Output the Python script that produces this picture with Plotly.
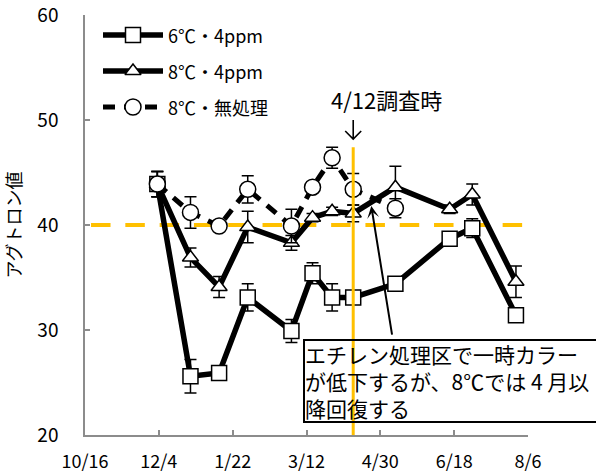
from datetime import date

import plotly.graph_objects as go

# Survey dates (storage season 2012-2013)
dates = ["2012-12-03", "2012-12-25", "2013-01-13", "2013-02-01", "2013-03-02",
         "2013-03-16", "2013-03-29", "2013-04-12", "2013-05-10", "2013-06-15",
         "2013-06-30", "2013-07-29"]

# Agtron values (mean) and standard errors per treatment
agtron_6c_4ppm = [43.9, 25.6, 25.9, 33.1, 29.9, 35.4, 33.1, 33.1, 34.4, 38.7, 39.7, 31.4]
err_6c_4ppm = [1.2, 1.6, 0.4, 1.3, 1.1, 1.0, 1.3, 0.4, 0.4, 0.4, 0.9, 0.4]

agtron_8c_4ppm = [43.9, 36.9, 34.1, 39.8, 38.3, 40.7, 41.3, 41.1, 43.6, 41.5, 42.9, 34.6]
err_8c_4ppm = [1.2, 0.9, 1.0, 1.5, 0.7, 0.4, 0.4, 0.8, 2.0, 0.4, 1.0, 1.5]

agtron_8c_ctrl = [43.9, 41.2, 39.9, 43.4, 39.9, 43.6, 46.4, 43.4, 41.6]
err_8c_ctrl = [1.2, 1.5, 0.4, 1.3, 1.6, 0.4, 1.0, 1.5, 0.9]

series_names = ["6℃・4ppm", "8℃・4ppm", "8℃・無処理"]

tick_dates = ["2012-10-16", "2012-12-04", "2013-01-22", "2013-03-12",
              "2013-04-30", "2013-06-18", "2013-08-06"]
tick_labels = ["10/16", "12/4", "1/22", "3/12", "4/30", "6/18", "8/6"]
y_ticks = [20, 30, 40, 50, 60]

threshold = 40
survey_date = "2013-04-12"
survey_label = "4/12調査時"
note_text = "エチレン処理区で一時カラー<br>が低下するが、8℃では 4 月以<br>降回復する"

FONT = "Noto Sans CJK JP"
ORANGE = "#FFC000"
AXIS_GREY = "#8c8c8c"

# plot area in pixels
L, T, W, H = 85, 15, 443, 420
FIG_W, FIG_H = 596, 476


def paper_x(px):
    return (px - L) / W


def paper_y(py):
    return (T + H - py) / H


def date_to_paper(d):
    d0 = date.fromisoformat(tick_dates[0])
    d1 = date.fromisoformat(tick_dates[-1])
    return (date.fromisoformat(d) - d0).days / (d1 - d0).days


def err(arr):
    return dict(type="data", array=arr, visible=True, color="black",
                thickness=1.5, width=6)


marker_styles = [
    dict(symbol="square", size=15, color="white", line=dict(color="black", width=1.5)),
    dict(symbol="triangle-up", size=14, color="white", line=dict(color="black", width=1.5)),
    dict(symbol="circle", size=16, color="white", line=dict(color="black", width=1.5)),
]
line_styles = [
    dict(color="black", width=5.5),
    dict(color="black", width=5.5),
    dict(color="black", width=5, dash="12px,9px"),
]

fig = go.Figure()

series = [
    (agtron_6c_4ppm, err_6c_4ppm),
    (agtron_8c_4ppm, err_8c_4ppm),
    (agtron_8c_ctrl, err_8c_ctrl),
]
for i, (vals, errs) in enumerate(series):
    fig.add_trace(go.Scatter(
        x=dates[:len(vals)], y=vals, mode="lines+markers", name=series_names[i],
        line=line_styles[i], marker=marker_styles[i], error_y=err(errs),
        showlegend=False, cliponaxis=False,
    ))

# Legend samples drawn on a hidden pixel-unit overlay axis
legend_rows = [35, 71, 107]
for i, ry in enumerate(legend_rows):
    yy = T + H - ry
    fig.add_trace(go.Scatter(
        x=[103 - L, 133 - L, 163 - L], y=[yy, yy, yy], xaxis="x2", yaxis="y2",
        mode="lines", line=line_styles[i], showlegend=False, hoverinfo="skip",
    ))
    fig.add_trace(go.Scatter(
        x=[133 - L], y=[yy], xaxis="x2", yaxis="y2", mode="markers",
        marker=marker_styles[i], showlegend=False, hoverinfo="skip",
    ))

annotations = []
for i, ry in enumerate(legend_rows):
    annotations.append(dict(
        xref="paper", yref="paper", x=paper_x(166), y=paper_y(ry),
        xanchor="left", yanchor="middle", text=series_names[i], showarrow=False,
        font=dict(family=FONT, size=18, color="black"),
    ))

# Survey-date label
annotations.append(dict(
    xref="paper", yref="paper", x=paper_x(386), y=paper_y(99),
    xanchor="center", yanchor="middle", text=survey_label, showarrow=False,
    font=dict(family=FONT, size=22, color="black"),
))

# Note box with arrow pointing at the 8℃ recovery
annotations.append(dict(
    xref="paper", yref="paper", x=paper_x(303), y=paper_y(339),
    xanchor="left", yanchor="top", text=note_text, showarrow=False, align="left",
    width=420, height=80, valign="middle",
    bordercolor="black", borderwidth=2, borderpad=0,
    font=dict(family=FONT, size=21, color="black"),
))
annotations.append(dict(
    xref="x", yref="y", x="2013-04-24", y=41.8, ax=21, ay=130,
    axref="pixel", ayref="pixel", text="", showarrow=True,
    arrowhead=3, arrowsize=1, arrowwidth=2, arrowcolor="black",
))

# Open down-arrow under the survey label
sx = date_to_paper(survey_date)
dx = 8 / W
tip, top, wing = paper_y(139), paper_y(120), paper_y(131)
arrow_path = (f"M{sx},{top} L{sx},{tip} M{sx - dx},{wing} L{sx},{tip} L{sx + dx},{wing}")

shapes = [
    dict(type="line", xref="x", yref="y", x0="2012-10-20", x1="2013-08-05",
         y0=threshold, y1=threshold, layer="below",
         line=dict(color=ORANGE, width=4, dash="19.5px,14.8px")),
    dict(type="line", xref="x", yref="y", x0=survey_date, x1=survey_date,
         y0=20, y1=47.4, layer="above", line=dict(color=ORANGE, width=3)),
    dict(type="path", xref="paper", yref="paper", path=arrow_path,
         line=dict(color="black", width=1.6)),
]

fig.update_layout(
    width=FIG_W, height=FIG_H,
    margin=dict(l=L, r=FIG_W - L - W, t=T, b=FIG_H - T - H, autoexpand=False),
    paper_bgcolor="white", plot_bgcolor="white",
    font=dict(family=FONT, color="black"),
    showlegend=False,
    xaxis=dict(
        type="date", range=[tick_dates[0], tick_dates[-1]],
        tickmode="array", tickvals=tick_dates, ticktext=tick_labels,
        showline=True, linecolor=AXIS_GREY, linewidth=1.5,
        ticks="inside", ticklen=5, tickwidth=1.5, tickcolor=AXIS_GREY,
        showgrid=False, zeroline=False, ticklabelstandoff=10,
        ticklabeloverflow="allow",
        tickfont=dict(family=FONT, size=18, color="black"),
    ),
    yaxis=dict(
        range=[20, 60], tickmode="array", tickvals=y_ticks,
        showline=True, linecolor=AXIS_GREY, linewidth=1.5,
        ticks="inside", ticklen=5, tickwidth=1.5, tickcolor=AXIS_GREY,
        showgrid=False, zeroline=False, ticklabelstandoff=21,
        ticklabeloverflow="allow",
        tickfont=dict(family=FONT, size=19, color="black"),
        title=dict(text="アグトロン値", standoff=12,
                   font=dict(family=FONT, size=18, color="black")),
    ),
    xaxis2=dict(overlaying="x", range=[0, W], visible=False, fixedrange=True),
    yaxis2=dict(overlaying="y", range=[0, H], visible=False, fixedrange=True),
    annotations=annotations,
    shapes=shapes,
)

fig.write_html("out.html")
